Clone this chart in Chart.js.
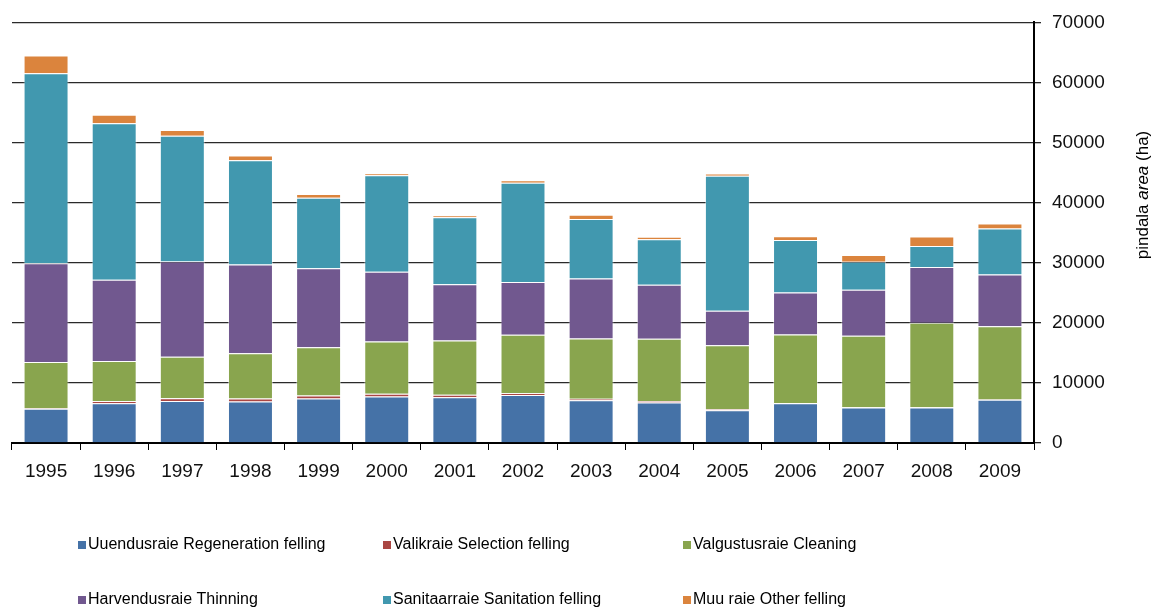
<!DOCTYPE html>
<html>
<head>
  <title>Raied</title>
  <script src="https://cdn.jsdelivr.net/npm/chart.js"></script>
  <style>
    html, body { margin: 0; padding: 0; background: #fff; }
    #wrap { position: relative; width: 1155px; height: 610px; }
  </style>
</head>
<body>
  <div id="wrap"><canvas id="myChart" width="1155" height="610"></canvas></div>

  <script>
    const years = ['1995', '1996', '1997', '1998', '1999', '2000', '2001', '2002', '2003', '2004', '2005', '2006', '2007', '2008', '2009'];
    const regeneration = [5700, 6600, 7000, 6900, 7400, 7750, 7600, 8000, 7100, 6750, 5450, 6600, 5900, 5900, 7200];
    const selection = [100, 400, 440, 500, 500, 450, 440, 280, 280, 220, 160, 50, 50, 50, 50];
    const cleaning = [7700, 6650, 6900, 7550, 8050, 8700, 9000, 9750, 10000, 10400, 10650, 11400, 11900, 14050, 12200];
    const thinning = [16400, 13500, 15850, 14750, 13150, 11600, 9400, 8750, 10000, 8950, 5750, 7000, 7650, 9300, 8600];
    const sanitation = [31650, 26050, 20950, 17350, 11700, 16050, 11150, 16550, 9900, 7600, 22450, 8750, 4650, 3500, 7650];
    const other = [2950, 1450, 950, 800, 650, 350, 300, 400, 700, 400, 400, 600, 1150, 1550, 850];
    const yTicks = [0, 10000, 20000, 30000, 40000, 50000, 60000, 70000];

    const seriesNames = [
      'Uuendusraie Regeneration felling',
      'Valikraie Selection felling',
      'Valgustusraie Cleaning',
      'Harvendusraie Thinning',
      'Sanitaarraie Sanitation felling',
      'Muu raie Other felling'
    ];
    const seriesData = [regeneration, selection, cleaning, thinning, sanitation, other];
    const colors = ['#4572A7', '#AA4643', '#89A54E', '#71588F', '#4198AF', '#DB843D'];

    const font = "'Liberation Sans', Arial, sans-serif";

    // y axis title with italic word, drawn by hand
    const axisTitle = {
      id: 'axisTitle',
      afterDraw(chart) {
        const ctx = chart.ctx;
        const parts = [['pindala ', 'normal'], ['area', 'italic'], [' (ha)', 'normal']];
        ctx.save();
        let total = 0;
        parts.forEach(p => {
          ctx.font = p[1] + ' 17px ' + font;
          total += ctx.measureText(p[0]).width;
        });
        ctx.translate(1143, 195);
        ctx.rotate(-Math.PI / 2);
        ctx.fillStyle = '#000';
        ctx.textBaseline = 'middle';
        let x = -total / 2;
        parts.forEach(p => {
          ctx.font = p[1] + ' 17px ' + font;
          ctx.fillText(p[0], x, 0);
          x += ctx.measureText(p[0]).width;
        });
        ctx.restore();
      }
    };

    // legend in two rows of three
    const bottomLegend = {
      id: 'bottomLegend',
      afterDraw(chart) {
        const ctx = chart.ctx;
        const colX = [78, 383, 683];
        const rowY = [545, 600];
        ctx.save();
        ctx.font = '16px ' + font;
        ctx.textBaseline = 'middle';
        seriesNames.forEach((name, i) => {
          const x = colX[i % 3];
          const y = rowY[Math.floor(i / 3)];
          ctx.fillStyle = colors[i];
          ctx.fillRect(x, y - 4, 8, 8);
          ctx.fillStyle = '#000';
          ctx.fillText(name, x + 10, y);
        });
        ctx.restore();
      }
    };

    const ctx = document.getElementById('myChart').getContext('2d');
    new Chart(ctx, {
      type: 'bar',
      data: {
        labels: years,
        datasets: seriesNames.map((name, i) => ({
          label: name,
          data: seriesData[i],
          backgroundColor: colors[i],
          borderColor: 'rgba(255,255,255,0.45)',
          borderWidth: 1,
          barPercentage: 0.66,
          categoryPercentage: 1
        }))
      },
      options: {
        responsive: false,
        animation: false,
        layout: { padding: { top: 22, left: 12, right: 0, bottom: 0 } },
        plugins: {
          legend: { display: false },
          tooltip: { enabled: false }
        },
        scales: {
          x: {
            stacked: true,
            grid: { drawOnChartArea: false, drawTicks: true, tickLength: 7, color: '#000', offset: true },
            border: { color: '#000', width: 2 },
            ticks: { color: '#111', font: { family: font, size: 19 }, padding: 10, maxRotation: 0 },
            afterFit(scale) { scale.height = 167; }
          },
          y: {
            stacked: true,
            position: 'right',
            min: 0,
            max: 70000,
            afterBuildTicks(scale) { scale.ticks = yTicks.map(v => ({ value: v })); },
            grid: { color: '#2a2a2a', lineWidth: 1.3, tickLength: 7 },
            border: { color: '#000', width: 2 },
            ticks: { color: '#111', font: { family: font, size: 19 }, padding: 11, callback: v => String(v) },
            afterFit(scale) { scale.width = 121; }
          }
        }
      },
      plugins: [axisTitle, bottomLegend]
    });
  </script>
</body>
</html>
